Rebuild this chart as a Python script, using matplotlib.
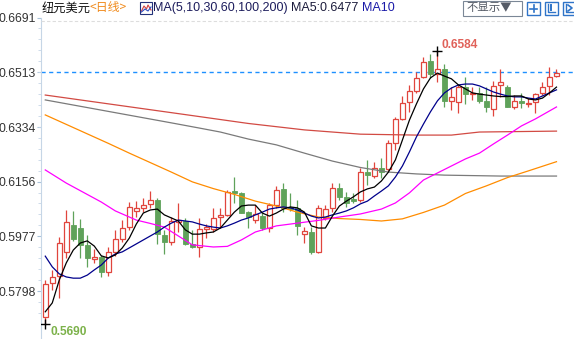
import matplotlib.pyplot as plt
from matplotlib.patches import Rectangle
from matplotlib.lines import Line2D

W, H = 574, 339

# daily candles, oldest first
opens = [0.5714, 0.5823, 0.5847, 0.5927, 0.6014, 0.6003, 0.5948, 0.5903, 0.5908, 0.5861,
         0.5927, 0.5967, 0.6006, 0.6061, 0.6068, 0.6081, 0.6095, 0.5981, 0.5959, 0.6023,
         0.6027, 0.5951, 0.5943, 0.6002, 0.6000, 0.6039, 0.6046, 0.6125, 0.6120, 0.6057,
         0.6030, 0.6043, 0.6003, 0.6079, 0.6131, 0.6073, 0.6068, 0.5983, 0.5992, 0.5927,
         0.6036, 0.6068, 0.6134, 0.6104, 0.6099, 0.6095, 0.6188, 0.6175, 0.6200, 0.6196,
         0.6281, 0.6360, 0.6417, 0.6453, 0.6499, 0.6550, 0.6507, 0.6523, 0.6420, 0.6417,
         0.6464, 0.6442, 0.6445, 0.6420, 0.6392, 0.6472, 0.6466, 0.6401, 0.6420, 0.6410,
         0.6417, 0.6445, 0.6469, 0.6501]
highs = [0.5834, 0.5867, 0.5976, 0.6063, 0.6060, 0.6032, 0.5981, 0.5934, 0.5916, 0.5941,
         0.5997, 0.6030, 0.6090, 0.6093, 0.6101, 0.6125, 0.6102, 0.5997, 0.6041, 0.6087,
         0.6036, 0.5997, 0.6036, 0.6017, 0.6068, 0.6068, 0.6128, 0.6172, 0.6123, 0.6060,
         0.6079, 0.6052, 0.6085, 0.6142, 0.6152, 0.6119, 0.6095, 0.6008, 0.6008, 0.6079,
         0.6079, 0.6150, 0.6150, 0.6123, 0.6117, 0.6200, 0.6226, 0.6221, 0.6234, 0.6292,
         0.6367, 0.6437, 0.6472, 0.6515, 0.6563, 0.6573, 0.6584, 0.6540, 0.6466, 0.6472,
         0.6499, 0.6466, 0.6466, 0.6466, 0.6485, 0.6524, 0.6472, 0.6439, 0.6446, 0.6429,
         0.6446, 0.6482, 0.6531, 0.6524]
lows = [0.5690, 0.5801, 0.5776, 0.5905, 0.5961, 0.5905, 0.5875, 0.5889, 0.5843, 0.5847,
        0.5912, 0.5959, 0.5997, 0.6041, 0.6057, 0.6068, 0.5952, 0.5918, 0.5948, 0.5992,
        0.5948, 0.5938, 0.5908, 0.5972, 0.5992, 0.6003, 0.6043, 0.6086, 0.6053, 0.6005,
        0.6020, 0.5997, 0.5992, 0.6068, 0.6057, 0.6060, 0.5981, 0.5954, 0.5919, 0.5922,
        0.6030, 0.6057, 0.6095, 0.6074, 0.6085, 0.6089, 0.6145, 0.6167, 0.6167, 0.6190,
        0.6259, 0.6357, 0.6384, 0.6445, 0.6495, 0.6494, 0.6483, 0.6401, 0.6390, 0.6379,
        0.6410, 0.6423, 0.6413, 0.6384, 0.6370, 0.6433, 0.6399, 0.6393, 0.6397, 0.6400,
        0.6380, 0.6439, 0.6439, 0.6498]
closes = [0.5820, 0.5843, 0.5954, 0.6025, 0.5968, 0.5948, 0.5905, 0.5908, 0.5861, 0.5927,
          0.5967, 0.6003, 0.6072, 0.6068, 0.6079, 0.6095, 0.5983, 0.5959, 0.6027, 0.6029,
          0.5951, 0.5943, 0.6000, 0.6008, 0.6036, 0.6045, 0.6123, 0.6117, 0.6054, 0.6041,
          0.6050, 0.6003, 0.6079, 0.6128, 0.6068, 0.6066, 0.6011, 0.5994, 0.5927, 0.6068,
          0.6066, 0.6134, 0.6106, 0.6085, 0.6093, 0.6188, 0.6177, 0.6199, 0.6187, 0.6281,
          0.6360, 0.6412, 0.6452, 0.6494, 0.6548, 0.6507, 0.6523, 0.6420, 0.6434, 0.6466,
          0.6442, 0.6447, 0.6420, 0.6399, 0.6469, 0.6481, 0.6401, 0.6420, 0.6414, 0.6414,
          0.6442, 0.6464, 0.6499, 0.6512]

# short moving averages, one value per candle
ma5 = [0.5730, 0.5759, 0.5834, 0.5890, 0.5932, 0.5955, 0.5962, 0.5945, 0.5913, 0.5906,
       0.5916, 0.5939, 0.5971, 0.6017, 0.6053, 0.6063, 0.6066, 0.6047, 0.6037, 0.6027,
       0.5998, 0.5984, 0.5984, 0.5988, 0.5991, 0.6004, 0.6030, 0.6056, 0.6076, 0.6079,
       0.6079, 0.6053, 0.6043, 0.6053, 0.6066, 0.6073, 0.6070, 0.6056, 0.6011, 0.6004,
       0.6004, 0.6043, 0.6076, 0.6092, 0.6106, 0.6122, 0.6132, 0.6138, 0.6158, 0.6187,
       0.6227, 0.6292, 0.6357, 0.6410, 0.6459, 0.6495, 0.6511, 0.6501, 0.6492, 0.6472,
       0.6459, 0.6446, 0.6442, 0.6439, 0.6436, 0.6434, 0.6434, 0.6436, 0.6436, 0.6426,
       0.6423, 0.6429, 0.6446, 0.6465]
ma10 = [0.5912, 0.5877, 0.5854, 0.5844, 0.5840, 0.5840, 0.5850, 0.5867, 0.5883, 0.5906,
        0.5919, 0.5926, 0.5939, 0.5952, 0.5965, 0.5978, 0.5991, 0.6007, 0.6020, 0.6030,
        0.6027, 0.6024, 0.6017, 0.6011, 0.6007, 0.6004, 0.6011, 0.6020, 0.6030, 0.6037,
        0.6047, 0.6056, 0.6066, 0.6070, 0.6073, 0.6070, 0.6063, 0.6053, 0.6043, 0.6037,
        0.6040, 0.6047, 0.6053, 0.6060, 0.6070, 0.6083, 0.6092, 0.6109, 0.6125, 0.6142,
        0.6171, 0.6207, 0.6253, 0.6302, 0.6344, 0.6384, 0.6420, 0.6446, 0.6462, 0.6472,
        0.6475, 0.6475, 0.6469, 0.6459, 0.6449, 0.6442, 0.6436, 0.6433, 0.6433, 0.6429,
        0.6426, 0.6436, 0.6446, 0.6456]

# long moving averages, read at selected candles
ma30_idx = [0, 3, 8, 10, 13, 15, 17, 19, 21, 24, 26, 28, 30, 33, 36, 39, 42, 45, 48, 50,
            52, 54, 56, 58, 60, 62, 64, 66, 68, 70, 73]
ma30 = [0.6194, 0.6151, 0.6089, 0.6060, 0.6030, 0.6019, 0.6007, 0.5978, 0.5949, 0.5942,
        0.5944, 0.5965, 0.5991, 0.6011, 0.6020, 0.6029, 0.6040, 0.6050, 0.6066, 0.6086,
        0.6119, 0.6161, 0.6184, 0.6207, 0.6230, 0.6249, 0.6279, 0.6308, 0.6338, 0.6361, 0.6400]
ma60_idx = [0, 3, 6, 9, 12, 15, 18, 21, 24, 27, 30, 33, 36, 39, 42, 45, 48, 51, 54, 57,
            60, 63, 66, 69, 73]
ma60 = [0.6374, 0.6343, 0.6312, 0.6281, 0.6249, 0.6218, 0.6187, 0.6155, 0.6133, 0.6114,
        0.6092, 0.6076, 0.6056, 0.6040, 0.6035, 0.6032, 0.6027, 0.6034, 0.6055, 0.6079,
        0.6117, 0.6142, 0.6169, 0.6191, 0.6221]
ma100_idx = [0, 6, 12, 18, 22, 25, 29, 33, 37, 41, 45, 49, 53, 57, 65, 73]
ma100 = [0.6423, 0.6398, 0.6373, 0.6348, 0.6331, 0.6318, 0.6295, 0.6276, 0.6249, 0.6223,
         0.6202, 0.6187, 0.6181, 0.6177, 0.6174, 0.6174]
ma200_idx = [0, 10, 20, 29, 37, 45, 53, 58, 62, 73]
ma200 = [0.6439, 0.6407, 0.6375, 0.6346, 0.6325, 0.6311, 0.6308, 0.6308, 0.6318, 0.6321]

yticks = [0.5798, 0.5977, 0.6156, 0.6334, 0.6513, 0.6691]
last_price = 0.6513
hi_idx, hi_val = 56, 0.6584
lo_idx, lo_val = 0, 0.5690

UP = '#e0453d'
DOWN = '#5fa25a'

plt.rcParams['font.family'] = ['Liberation Sans', 'Noto Sans CJK SC', 'DejaVu Sans']

fig = plt.figure(figsize=(W / 100, H / 100), dpi=100)
ax = fig.add_axes([41 / W, 0, 1 - 41 / W, 321 / H])

# candles
bw = 0.72
for i, (o, h, l, c) in enumerate(zip(opens, highs, lows, closes)):
    if c >= o:
        ax.vlines(i, c, h, color=UP, lw=0.9, zorder=2)
        ax.vlines(i, l, o, color=UP, lw=0.9, zorder=2)
        ax.add_patch(Rectangle((i - bw / 2, o), bw, max(c - o, 0.00005),
                               facecolor='white', edgecolor=UP, lw=0.9, zorder=2))
    else:
        ax.vlines(i, l, h, color=DOWN, lw=0.9, zorder=2)
        ax.add_patch(Rectangle((i - bw / 2, c), bw, o - c,
                               facecolor=DOWN, edgecolor=DOWN, lw=0.6, zorder=2))

# moving averages
ax.plot(ma200_idx, ma200, color='#d24a43', lw=0.9, zorder=3)
ax.plot(ma100_idx, ma100, color='#7a7a7a', lw=0.9, zorder=3)
ax.plot(ma60_idx, ma60, color='#ff8c00', lw=0.9, zorder=3)
ax.plot(ma30_idx, ma30, color='#ff00ff', lw=0.9, zorder=3)
ax.plot(range(len(ma10)), ma10, color='#00008b', lw=0.9, zorder=4)
ax.plot(range(len(ma5)), ma5, color='black', lw=0.9, zorder=4)

# latest price line
ax.axhline(last_price, color='#1e90ff', lw=1, dashes=(3, 2.5), zorder=1)

# high / low markers
ax.plot([hi_idx], [hi_val], marker='+', color='black', ms=7, mew=1, zorder=5)
ax.plot([lo_idx], [lo_val], marker='+', color='black', ms=7, mew=1, zorder=5)
ax.annotate(f'{hi_val:.4f}', (hi_idx, hi_val), xytext=(3, 4), textcoords='offset points',
            color='#e0625a', fontsize=8.6, fontweight='bold', va='center', ha='left')
ax.annotate(f'{lo_val:.4f}', (lo_idx, lo_val), xytext=(3.5, -6), textcoords='offset points',
            color='#7cb24a', fontsize=8.6, fontweight='bold', va='center', ha='left')

# axis styling
for side in ['top', 'right', 'bottom']:
    ax.spines[side].set_visible(False)
ax.spines['left'].set_color('#c6d6e6')
ax.set_xticks([])
ax.set_yticks(yticks)
ax.set_yticklabels([f'{v:.4f}' for v in yticks])
step = (yticks[1] - yticks[0]) / 5
ax.set_yticks([yticks[0] + k * step for k in range(-2, 26)], minor=True)
ax.tick_params(axis='y', which='major', length=3, color='#a9c2da', labelsize=8.8,
               labelcolor='#333333', pad=0.5)
ax.tick_params(axis='y', which='minor', length=2, color='#c6d6e6')
ax.set_xlim(-0.61, 75.5)
ax.set_ylim(0.5641, 0.6691)

# header row
def fx(x):
    return x / W

def fy(y):
    return 1 - y / H

fig.add_artist(Line2D([fx(41), 1], [fy(21), fy(21)], color='#dddddd', lw=0.8, dashes=(3, 2)))
fig.text(fx(42), fy(8), '纽元美元', family=['Noto Sans CJK SC'], fontsize=8.8,
         color='#111111', va='center')
fig.text(fx(90), fy(8), '<日线>', family=['Noto Sans CJK SC'], fontsize=8.6,
         color='#f08a1c', va='center')
fig.add_artist(Rectangle((fx(140), fy(14)), 12 / W, 12 / H, facecolor='white',
                         edgecolor='#23327a', lw=0.8))
fig.add_artist(Line2D([fx(141.5), fx(144), fx(146.5), fx(148), fx(151)],
                      [fy(11), fy(6), fy(9), fy(5), fy(10)], color='#d04040', lw=0.8))
fig.add_artist(Line2D([fx(141.5), fx(145), fx(148), fx(151)],
                      [fy(12), fy(9), fy(11), fy(7)], color='#3050c0', lw=0.8))
fig.text(fx(153), fy(8), 'MA(5,10,30,60,100,200)', fontsize=9, color='#1c1c5c', va='center')
fig.text(fx(291), fy(8), 'MA5:0.6477', fontsize=9, color='#1c1c3c', va='center')
fig.text(fx(362), fy(8), 'MA10', fontsize=9, color='#1a1aa8', va='center')

fig.add_artist(Rectangle((fx(463), fy(16)), 59 / W, 15 / H, facecolor='white',
                         edgecolor='#7b8796', lw=0.8))
fig.text(fx(467), fy(8.5), '不显示▼', family=['Noto Sans CJK SC', 'DejaVu Sans'],
         fontsize=8.2, color='#555b66', va='center')
for bx in [527, 545, 563]:
    fig.add_artist(Rectangle((fx(bx), fy(15)), 13 / W, 13 / H, facecolor='white',
                             edgecolor='#2f74c8', lw=1))
fig.add_artist(Line2D([fx(530), fx(537)], [fy(8.5), fy(8.5)], color='#2f74c8', lw=1.2))
fig.add_artist(Line2D([fx(533.5), fx(533.5)], [fy(5), fy(12)], color='#2f74c8', lw=1.2))
fig.add_artist(Line2D([fx(548), fx(548), fx(555)], [fy(4), fy(12), fy(12)], color='#2f74c8', lw=1))
fig.add_artist(Line2D([fx(551), fx(551)], [fy(5), fy(10)], color='#2f74c8', lw=1.4))
fig.add_artist(Line2D([fx(566), fx(566), fx(573)], [fy(4), fy(12), fy(12)], color='#2f74c8', lw=1))
fig.add_artist(Line2D([fx(568), fx(572), fx(568)], [fy(5), fy(8), fy(11)], color='#2f74c8', lw=1.2))

fig.savefig('out.png', dpi=100)
